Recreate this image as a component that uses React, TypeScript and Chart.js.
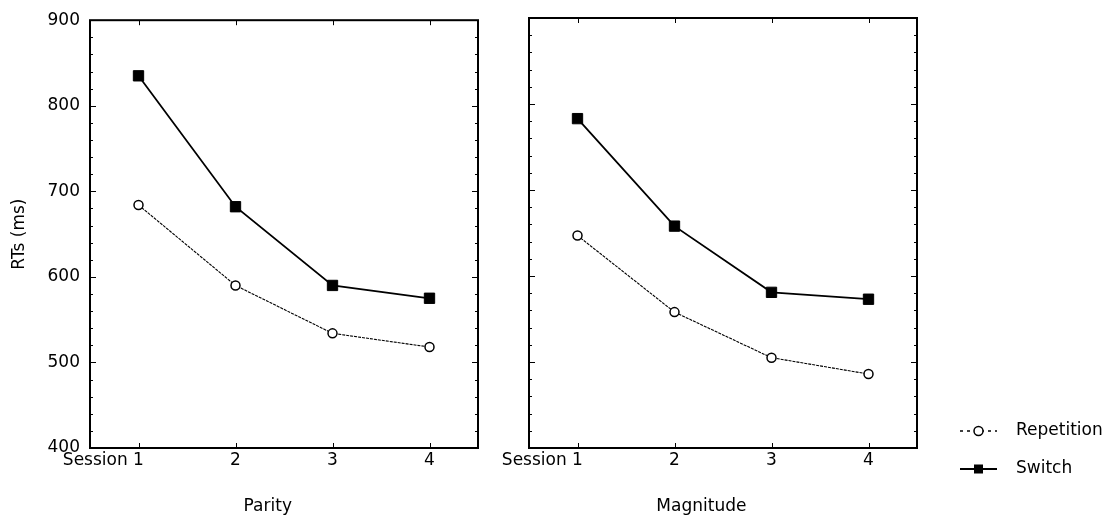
import React, { useEffect, useRef } from 'react';
import { Chart, registerables } from 'chart.js';

Chart.register(...registerables);

const categories = ['Session 1', '2', '3', '4'];
const parityRepetition = [684, 590, 534, 518];
const paritySwitch = [835, 682, 590, 575];
const magnitudeRepetition = [647, 558, 505, 486];
const magnitudeSwitch = [783, 658, 581, 573];
const seriesNames = ['Repetition', 'Switch'];
const panelTitles = ['Parity', 'Magnitude'];
const yTitle = 'RTs (ms)';
const yMin = 400;
const yMax = 900;
const yMajorStep = 100;
const yMinorStep = 20;

const FONT_FAMILY = '"DejaVu Sans", "Liberation Sans", sans-serif';
const font = { family: FONT_FAMILY, size: 17 };

const framePlugin = {
  id: 'frame',
  afterDraw(chart: any) {
    const { ctx, chartArea: a, scales } = chart;
    const y = scales.y;
    const x = scales.x;
    ctx.save();
    ctx.strokeStyle = '#000';
    ctx.lineWidth = 1;
    ctx.beginPath();
    for (let v = yMin; v <= yMax; v += yMinorStep) {
      const py = Math.round(y.getPixelForValue(v)) + 0.5;
      const len = v % yMajorStep === 0 ? 6 : 3;
      ctx.moveTo(a.left, py);
      ctx.lineTo(a.left + len, py);
      ctx.moveTo(a.right, py);
      ctx.lineTo(a.right - len, py);
    }
    for (let i = 0; i < categories.length; i++) {
      const px = Math.round(x.getPixelForValue(i)) + 0.5;
      ctx.moveTo(px, a.bottom);
      ctx.lineTo(px, a.bottom - 5);
      ctx.moveTo(px, a.top);
      ctx.lineTo(px, a.top + 5);
    }
    ctx.stroke();
    ctx.lineWidth = 2;
    ctx.strokeRect(a.left, a.top, a.right - a.left, a.bottom - a.top);
    ctx.restore();
  },
};

const sideLegendPlugin = {
  id: 'sideLegend',
  afterDraw(chart: any) {
    const { ctx, chartArea: a } = chart;
    const rows = [a.bottom - 17, a.bottom + 21];
    chart.data.datasets.forEach((ds: any, i: number) => {
      const yy = rows[i];
      const x0 = a.right + 43;
      const x1 = a.right + 80;
      const xm = (x0 + x1) / 2;
      const dashed = ds.borderDash && ds.borderDash.length;
      ctx.save();
      ctx.strokeStyle = '#000';
      ctx.lineWidth = dashed ? 1.5 : 2;
      ctx.setLineDash(dashed ? [3, 4] : []);
      ctx.beginPath();
      ctx.moveTo(x0, yy);
      ctx.lineTo(x1, yy);
      ctx.stroke();
      ctx.setLineDash([]);
      if (ds.pointStyle === 'circle') {
        ctx.beginPath();
        ctx.arc(xm, yy, 4.5, 0, Math.PI * 2);
        ctx.fillStyle = '#fff';
        ctx.fill();
        ctx.lineWidth = 1.5;
        ctx.stroke();
      } else {
        ctx.fillStyle = '#000';
        ctx.fillRect(xm - 4.5, yy - 4.5, 9, 9);
      }
      ctx.fillStyle = '#000';
      ctx.font = `17px ${FONT_FAMILY}`;
      ctx.textAlign = 'left';
      ctx.textBaseline = 'middle';
      ctx.fillText(ds.label, a.right + 99, yy);
      ctx.restore();
    });
  },
};

function makeDatasets(rep: number[], sw: number[]) {
  return [
    {
      label: seriesNames[0],
      data: rep,
      borderColor: '#000',
      borderWidth: 1.1,
      borderDash: [3, 1],
      pointStyle: 'circle',
      pointRadius: 4.5,
      pointBorderWidth: 1.5,
      pointBackgroundColor: '#fff',
      pointBorderColor: '#000',
      tension: 0,
    },
    {
      label: seriesNames[1],
      data: sw,
      borderColor: '#000',
      borderWidth: 1.8,
      pointStyle: 'rect',
      pointRadius: 7.3,
      pointBorderWidth: 1,
      pointBackgroundColor: '#000',
      pointBorderColor: '#000',
      tension: 0,
    },
  ];
}

function makeConfig(opts: {
  rep: number[];
  sw: number[];
  title: string;
  titleShift: number;
  showY: boolean;
  padding: any;
  withLegend: boolean;
}) {
  return {
    type: 'line',
    data: { labels: categories, datasets: makeDatasets(opts.rep, opts.sw) },
    options: {
      responsive: false,
      animation: false,
      events: [],
      layout: { padding: opts.padding },
      plugins: { legend: { display: false }, tooltip: { enabled: false } },
      scales: {
        x: {
          type: 'category',
          offset: true,
          grid: { display: false, drawTicks: false },
          border: { display: false },
          ticks: {
            color: '#000',
            font,
            padding: 2,
            autoSkip: false,
            maxRotation: 0,
            minRotation: 0,
            callback: (_v: any, i: number) =>
              i === 0 ? categories[0] + ' '.repeat(13) : categories[i],
          },
          title: {
            display: true,
            text: opts.title + ' '.repeat(opts.titleShift),
            color: '#000',
            font,
            padding: { top: 0, bottom: 1 },
          },
          afterFit: (s: any) => {
            s.height = 70;
          },
        },
        y: {
          min: yMin,
          max: yMax,
          grid: { display: false, drawTicks: false },
          border: { display: false },
          ticks: {
            display: opts.showY,
            stepSize: yMajorStep,
            color: '#000',
            font,
            padding: 10,
          },
          title: {
            display: opts.showY,
            text: yTitle,
            color: '#000',
            font,
            padding: { top: 9, bottom: 0 },
          },
          afterFit: (s: any) => {
            s.width = opts.showY ? 90 : 0;
          },
        },
      },
    },
    plugins: opts.withLegend ? [framePlugin, sideLegendPlugin] : [framePlugin],
  };
}

export default function App() {
  const leftRef = useRef<HTMLCanvasElement>(null);
  const rightRef = useRef<HTMLCanvasElement>(null);

  useEffect(() => {
    const left = new Chart(
      leftRef.current as HTMLCanvasElement,
      makeConfig({
        rep: parityRepetition,
        sw: paritySwitch,
        title: panelTitles[0],
        titleShift: 6,
        showY: true,
        padding: { left: 0, right: 22, top: 18, bottom: 0 },
        withLegend: false,
      }) as any
    );
    const right = new Chart(
      rightRef.current as HTMLCanvasElement,
      makeConfig({
        rep: magnitudeRepetition,
        sw: magnitudeSwitch,
        title: panelTitles[1],
        titleShift: 8,
        showY: false,
        padding: { left: 59, right: 196, top: 18, bottom: 0 },
        withLegend: true,
      }) as any
    );
    return () => {
      left.destroy();
      right.destroy();
    };
  }, []);

  return (
    <div
      style={{
        position: 'absolute',
        left: 0,
        top: 0,
        width: 1113,
        height: 518,
        background: '#fff',
      }}
    >
      <canvas
        ref={leftRef}
        width={500}
        height={518}
        style={{ position: 'absolute', left: 0, top: 0 }}
      />
      <canvas
        ref={rightRef}
        width={643}
        height={518}
        style={{ position: 'absolute', left: 470, top: 0 }}
      />
    </div>
  );
}
